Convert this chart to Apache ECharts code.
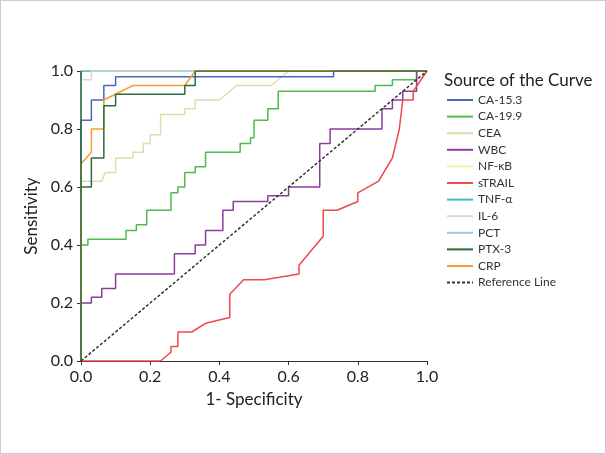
<!DOCTYPE html><html><head><meta charset="utf-8"><script src="https://cdn.jsdelivr.net/npm/echarts@6/dist/echarts.min.js"></script>
<style>body{margin:0}#c{width:606px;height:454px;box-sizing:border-box;border:1px solid #ccc}</style></head><body><div id="c"></div><script>
const ca153=[[0,0],[0,0.83],[0.03,0.83],[0.03,0.9],[0.066,0.9],[0.066,0.95],[0.1,0.95],[0.1,0.98],[0.73,0.98],[0.73,1],[1,1]];
const ca199=[[0,0],[0,0.4],[0.02,0.4],[0.02,0.42],[0.13,0.42],[0.13,0.45],[0.16,0.45],[0.16,0.47],[0.19,0.47],[0.19,0.52],[0.26,0.52],[0.26,0.58],[0.28,0.58],[0.28,0.6],[0.3,0.6],[0.3,0.65],[0.33,0.65],[0.33,0.67],[0.36,0.67],[0.36,0.72],[0.46,0.72],[0.46,0.75],[0.49,0.75],[0.49,0.77],[0.5,0.77],[0.5,0.83],[0.54,0.83],[0.54,0.87],[0.57,0.87],[0.57,0.93],[0.85,0.93],[0.85,0.95],[0.9,0.95],[0.9,0.97],[0.97,0.97],[0.97,1],[1,1]];
const cea=[[0,0],[0,0.62],[0.06,0.62],[0.07,0.65],[0.1,0.65],[0.1,0.7],[0.15,0.7],[0.15,0.72],[0.18,0.72],[0.18,0.75],[0.2,0.75],[0.2,0.78],[0.23,0.78],[0.23,0.85],[0.3,0.85],[0.3,0.87],[0.33,0.87],[0.33,0.9],[0.4,0.9],[0.45,0.95],[0.55,0.95],[0.58,0.98],[0.6,1],[1,1]];
const wbc=[[0,0],[0,0.2],[0.03,0.2],[0.03,0.22],[0.06,0.22],[0.06,0.25],[0.1,0.25],[0.1,0.3],[0.27,0.3],[0.27,0.37],[0.33,0.37],[0.33,0.4],[0.36,0.4],[0.36,0.45],[0.41,0.45],[0.41,0.52],[0.44,0.52],[0.44,0.55],[0.54,0.55],[0.54,0.57],[0.6,0.57],[0.6,0.6],[0.69,0.6],[0.69,0.75],[0.72,0.75],[0.72,0.8],[0.87,0.8],[0.87,0.87],[0.9,0.87],[0.9,0.9],[0.93,0.9],[0.93,0.93],[0.97,0.93],[0.97,1],[1,1]];
const nfkb=[[0,0],[0,1],[1,1]];
const strail=[[0,0],[0.23,0],[0.26,0.03],[0.26,0.05],[0.28,0.05],[0.28,0.1],[0.32,0.1],[0.36,0.13],[0.43,0.15],[0.43,0.23],[0.47,0.28],[0.53,0.28],[0.63,0.3],[0.63,0.33],[0.7,0.43],[0.7,0.52],[0.74,0.52],[0.8,0.55],[0.8,0.58],[0.86,0.62],[0.9,0.7],[0.92,0.8],[0.93,0.9],[0.96,0.9],[0.96,0.93],[1,1]];
const tnf=[[0,0],[0,1],[1,1]];
const il6=[[0,0],[0,0.97],[0.03,0.97],[0.03,1],[1,1]];
const pct=[[0,0],[0,1],[1,1]];
const ptx3=[[0,0],[0,1],[0,0.6],[0.03,0.6],[0.03,0.7],[0.066,0.7],[0.066,0.88],[0.1,0.88],[0.1,0.92],[0.3,0.92],[0.3,0.95],[0.33,0.95],[0.33,1],[1,1]];
const crp=[[0,0],[0,0.68],[0.03,0.72],[0.03,0.8],[0.066,0.8],[0.066,0.9],[0.15,0.95],[0.3,0.95],[0.33,1],[1,1]];
const refLine=[[0,0],[1,1]];
const names=['CA-15.3','CA-19.9','CEA','WBC','NF-κB','sTRAIL','TNF-α','IL-6','PCT','PTX-3','CRP','Reference Line'];
const datas=[ca153,ca199,cea,wbc,nfkb,strail,tnf,il6,pct,ptx3,crp,refLine];
const colors=['#4a64c0','#4cbb4c','#e0dcb0','#8c3c9c','#f0f0b0','#f04848','#40c0c0','#d8d8d8','#a0c8e8','#2c6c3c','#f5a030','#333'];
const zs=[8,9,7,10,3,11,4,6,2,13,12,14];
const series=names.map((n,i)=>({name:n,type:'line',symbol:'none',data:datas[i],lineStyle:{color:colors[i],width:1.5,type:i==11?[3,2]:'solid'},itemStyle:{color:colors[i]},z:zs[i]}));
const ch=echarts.init(document.getElementById('c'));
const ax={type:'value',min:0,max:1,interval:0.2,axisLine:{show:true,lineStyle:{color:'#333'}},axisTick:{show:true,length:4,lineStyle:{color:'#333'}},splitLine:{show:false},axisLabel:{color:'#222',fontSize:16,fontFamily:'Lato',formatter:v=>v.toFixed(1)},nameTextStyle:{color:'#222',fontSize:17,fontFamily:'Lato'}};
ch.setOption({animation:false,grid:{left:80,right:178,top:70,bottom:92},
title:{text:'Source of the Curve',left:438,top:66,textStyle:{fontSize:17,fontWeight:'normal',color:'#222',fontFamily:'Lato'}},
legend:{orient:'vertical',left:440,top:88,itemGap:4.6,itemWidth:26,itemHeight:12,data:names,itemStyle:{opacity:0},textStyle:{fontSize:12,color:'#333',fontFamily:'Lato'}},
xAxis:[Object.assign({},ax,{name:'1- Specificity',nameLocation:'middle',nameGap:30}),{type:'value',position:'top',min:0,max:1,axisLine:{lineStyle:{color:'#333'}},axisTick:{show:false},axisLabel:{show:false},splitLine:{show:false}}],
yAxis:[Object.assign({},ax,{name:'Sensitivity',nameLocation:'middle',nameGap:38}),{type:'value',position:'right',min:0,max:1,axisLine:{show:true,lineStyle:{color:'#333'}},axisTick:{show:false},axisLabel:{show:false},splitLine:{show:false}}],
series:series});
</script></body></html>
